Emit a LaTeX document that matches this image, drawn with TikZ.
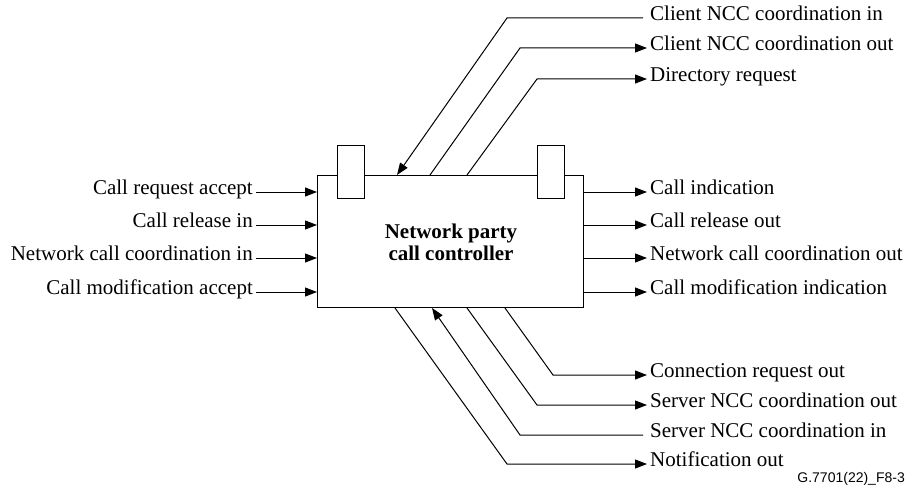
\documentclass[tikz,border=0pt]{standalone}
\usepackage{fontspec}
\setmainfont{Liberation Serif}
\newfontfamily\figidfont{Liberation Sans}
\usetikzlibrary{arrows.meta}
\begin{document}
\begin{tikzpicture}[x=1pt,y=-1pt,
  wire/.style={line width=1pt},
  sig/.style={wire,-{Triangle[length=12pt,width=9pt]}},
  lbl/.style={inner xsep=3pt,inner ysep=0pt,font=\fontsize{21}{24}\selectfont,
              text height=0.7em,text depth=0.18em},
  inlbl/.style={lbl,anchor=east},
  outlbl/.style={lbl,anchor=west},
  port/.style={draw,wire,fill=white,inner sep=0pt,minimum width=27pt,minimum height=53pt}]
\useasboundingbox (0,0) rectangle (909,492);

% controller body with its two ports
\node[draw,wire,inner sep=0pt,minimum width=266pt,minimum height=132pt,anchor=north west] (ncc) at (317,175) {};
\node[port] (pleft) at (350.5,171.5) {};
\node[port] (pright) at (550.5,171.5) {};
\node[font=\fontsize{21}{22}\selectfont\bfseries,align=center] (title) at (451,242) {Network party\\call controller};

% left-hand inputs
\node[inlbl] (cra) at (256,192) {Call request accept};
\node[inlbl] (cri) at (256,225) {Call release in};
\node[inlbl] (nci) at (256,258) {Network call coordination in};
\node[inlbl] (cma) at (256,292) {Call modification accept};
\foreach \n in {cra,cri,nci,cma}
  \draw[sig] (\n.east) -- (\n.east -| ncc.west);

% right-hand outputs
\node[outlbl] (cind) at (647,192) {Call indication};
\node[outlbl] (cro) at (647,225) {Call release out};
\node[outlbl] (nco) at (647,258) {Network call coordination out};
\node[outlbl] (cmi) at (647,292) {Call modification indication};
\foreach \n in {cind,cro,nco,cmi}
  \draw[sig] (\n.west -| ncc.east) -- (\n.west);

% upper signals
\node[outlbl] (ccin) at (647,18) {Client NCC coordination in};
\node[outlbl] (ccout) at (647,48) {Client NCC coordination out};
\node[outlbl] (dreq) at (647,79) {Directory request};
\coordinate (b1) at (507,18);
\coordinate (b2) at (520,48);
\coordinate (b3) at (537,79);
\draw[sig,shorten <=4pt] (ccin.west) -- (b1) -- ([xshift=80pt]ncc.north west);
\draw[sig] ([xshift=113pt]ncc.north west) -- (b2) -- (ccout.west);
\draw[sig] ([xshift=150pt]ncc.north west) -- (b3) -- (dreq.west);

% lower signals
\node[outlbl] (conn) at (647,375) {Connection request out};
\node[outlbl] (snout) at (647,405) {Server NCC coordination out};
\node[outlbl] (snin) at (647,435) {Server NCC coordination in};
\node[outlbl] (note) at (647,464) {Notification out};
\coordinate (c1) at (553,375);
\coordinate (c2) at (537,405);
\coordinate (c3) at (520,435);
\coordinate (c4) at (507,464);
\draw[sig] ([xshift=188pt]ncc.south west) -- (c1) -- (conn.west);
\draw[sig] ([xshift=150pt]ncc.south west) -- (c2) -- (snout.west);
\draw[sig,shorten <=4pt] (snin.west) -- (c3) -- ([xshift=115pt]ncc.south west);
\draw[sig] ([xshift=78pt]ncc.south west) -- (c4) -- (note.west);

% figure identifier
\node[font=\figidfont\fontsize{14}{16}\selectfont,anchor=base east,inner sep=0pt] (figid) at (905,482) {G.7701(22)\_F8-3};
\end{tikzpicture}
\end{document}
